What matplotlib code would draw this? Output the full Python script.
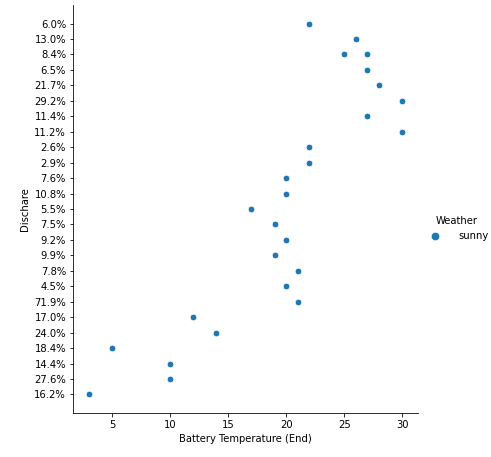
import matplotlib
matplotlib.use("Agg")
import matplotlib.pyplot as plt

categories = ["6.0%", "13.0%", "8.4%", "6.5%", "21.7%", "29.2%", "11.4%", "11.2%",
              "2.6%", "2.9%", "7.6%", "10.8%", "5.5%", "7.5%", "9.2%", "9.9%",
              "7.8%", "4.5%", "71.9%", "17.0%", "24.0%", "18.4%", "14.4%", "27.6%", "16.2%"]
point_cat = ["6.0%", "13.0%", "8.4%", "8.4%", "6.5%", "21.7%", "29.2%", "11.4%", "11.2%",
             "2.6%", "2.9%", "7.6%", "10.8%", "5.5%", "7.5%", "9.2%", "9.9%",
             "7.8%", "4.5%", "71.9%", "17.0%", "24.0%", "18.4%", "14.4%", "27.6%", "16.2%"]
temp_end = [22, 26, 25, 27, 27, 28, 30, 27, 30,
            22, 22, 20, 20, 17, 19, 20, 19,
            21, 20, 21, 12, 14, 5, 10, 10, 3]

fig = plt.figure(figsize=(491/72, 457/72), dpi=72)
ax = fig.add_axes([73/491, 44/457, 345/491, 408/457])

pos = {c: i for i, c in enumerate(categories)}
ys = [pos[c] for c in point_cat]
sc = ax.scatter(temp_end, ys, s=44, color="#1f77b4", edgecolor="white", linewidth=0.75, label="sunny")

ax.set_yticks(range(len(categories)))
ax.set_yticklabels(categories)
n = len(categories)
ax.set_ylim(n - 1 + 0.05 * (n - 1), -0.05 * (n - 1))
ax.set_xticks([5, 10, 15, 20, 25, 30])
ax.tick_params(labelsize=10)
for s in ["top", "right"]:
    ax.spines[s].set_visible(False)
ax.set_xlabel("Battery Temperature (End)", fontsize=10)
ax.set_ylabel("Dischare", fontsize=10)

leg = fig.legend(handles=[sc], labels=["sunny"], title="Weather", frameon=False,
                 loc="center left", bbox_to_anchor=(416/491, 0.5), fontsize=10,
                 title_fontsize=10, markerscale=1.3, handletextpad=1.3)

fig.savefig("out.png", dpi=72)
